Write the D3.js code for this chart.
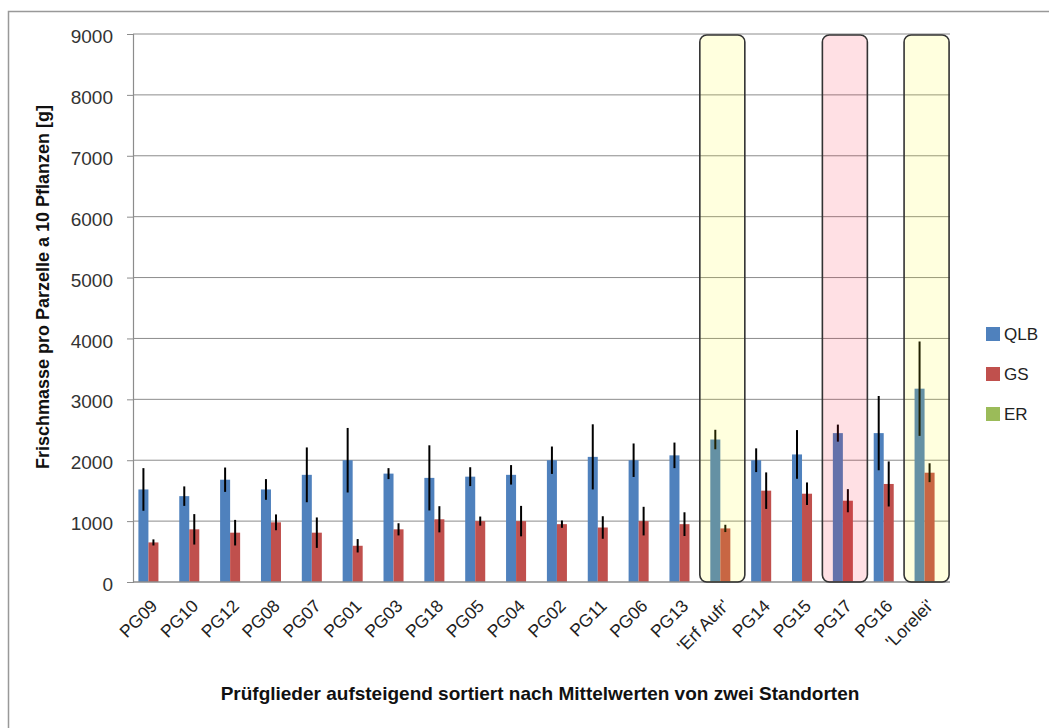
<!DOCTYPE html>
<html>
<head>
<meta charset="utf-8">
<script src="https://cdn.jsdelivr.net/npm/d3@7"></script>
<style>
  body { margin: 0; background: #fff; }
  text { font-family: "Liberation Sans", Arial, sans-serif; }
</style>
</head>
<body>
<div id="chart"></div>
<script>
// Categories sorted by mean of two sites
const categories = ["PG09", "PG10", "PG12", "PG08", "PG07", "PG01", "PG03", "PG18", "PG05", "PG04",
  "PG02", "PG11", "PG06", "PG13", "'Erf Aufr'", "PG14", "PG15", "PG17", "PG16", "'Lorelei'"];
const seriesNames = ["QLB", "GS", "ER"];
const seriesColors = ["#4F81BD", "#C0504D", "#9BBB59"];

const qlbValues = [1520, 1410, 1680, 1520, 1760, 2000, 1780, 1710, 1730, 1760,
  2000, 2055, 2000, 2080, 2340, 2000, 2095, 2445, 2445, 3175];
const qlbErrors = [350, 160, 200, 170, 450, 530, 90, 535, 155, 160,
  225, 535, 275, 210, 160, 195, 400, 140, 610, 775];
const gsValues = [650, 865, 810, 980, 810, 595, 865, 1030, 1000, 1000,
  950, 895, 1000, 950, 880, 1500, 1450, 1335, 1610, 1795];
const gsErrors = [50, 250, 210, 130, 250, 110, 100, 215, 75, 250,
  60, 185, 235, 195, 60, 300, 185, 190, 370, 155];
// ER has no values in the chart, only a legend entry
const erValues = categories.map(() => null);

const yTicks = [0, 1000, 2000, 3000, 4000, 5000, 6000, 7000, 8000, 9000];
const highlighted = [
  {cat: "'Erf Aufr'", fill: "rgba(255,255,0,0.13)"},
  {cat: "PG17", fill: "rgba(255,0,30,0.12)"},
  {cat: "'Lorelei'", fill: "rgba(255,255,0,0.13)"}
];

const width = 1049, height = 728;
const plot = {left: 133, right: 950, top: 34, bottom: 582};

const svg = d3.select('#chart').append('svg')
  .attr('width', width)
  .attr('height', height);

// outer chart border (right/bottom edges fall outside the picture)
svg.append('rect')
  .attr('x', 8.5).attr('y', 11.5)
  .attr('width', 1200).attr('height', 900)
  .attr('fill', 'none')
  .attr('stroke', '#999')
  .attr('stroke-width', 1.5);

const x = d3.scaleBand().domain(categories).range([plot.left, plot.right]);
const xs = d3.scaleBand().domain(seriesNames).range([0, x.bandwidth()]).paddingOuter(0.54);
const y = d3.scaleLinear().domain([0, 9000]).range([plot.bottom, plot.top]);

// gridlines
svg.append('g')
  .selectAll('line')
  .data(yTicks.slice(1))
  .enter().append('line')
  .attr('x1', plot.left).attr('x2', plot.right)
  .attr('y1', (d) => y(d)).attr('y2', (d) => y(d))
  .attr('stroke', '#8c8c8c')
  .attr('stroke-width', 1);

// y axis
const yAxis = svg.append('g')
  .attr('transform', 'translate(' + plot.left + ',0)')
  .call(d3.axisLeft(y).tickValues(yTicks).tickSize(6).tickPadding(14).tickFormat(d3.format('d')));
yAxis.select('.domain').attr('stroke', '#8c8c8c').attr('stroke-width', 1.2);
yAxis.selectAll('.tick line').attr('stroke', '#8c8c8c');
yAxis.selectAll('.tick text')
  .attr('fill', '#333')
  .style('font-size', '19px')
  .attr('dy', '0.45em');

// bars
const rows = categories.map((c, i) => ({
  cat: c,
  vals: [
    {s: 'QLB', v: qlbValues[i], e: qlbErrors[i]},
    {s: 'GS', v: gsValues[i], e: gsErrors[i]},
    {s: 'ER', v: erValues[i], e: null}
  ]
}));

const groups = svg.append('g').attr('class', 'bars')
  .selectAll('g')
  .data(rows)
  .enter().append('g')
  .attr('transform', (d) => 'translate(' + x(d.cat) + ',0)');

const colorOf = d3.scaleOrdinal().domain(seriesNames).range(seriesColors);

groups.selectAll('rect')
  .data((d) => d.vals.filter((v) => v.v != null))
  .enter().append('rect')
  .attr('x', (d) => xs(d.s))
  .attr('width', xs.bandwidth())
  .attr('y', (d) => y(d.v))
  .attr('height', (d) => y(0) - y(d.v))
  .attr('fill', (d) => colorOf(d.s));

// error bars (no caps)
groups.selectAll('line')
  .data((d) => d.vals.filter((v) => v.e != null))
  .enter().append('line')
  .attr('x1', (d) => xs(d.s) + xs.bandwidth() / 2)
  .attr('x2', (d) => xs(d.s) + xs.bandwidth() / 2)
  .attr('y1', (d) => y(d.v + d.e))
  .attr('y2', (d) => y(d.v - d.e))
  .attr('stroke', '#000')
  .attr('stroke-width', 2);

// x axis base line
svg.append('line')
  .attr('x1', plot.left).attr('x2', plot.right)
  .attr('y1', plot.bottom).attr('y2', plot.bottom)
  .attr('stroke', '#8c8c8c')
  .attr('stroke-width', 1.5);

// highlight boxes over selected categories
svg.append('g')
  .selectAll('rect')
  .data(highlighted)
  .enter().append('rect')
  .attr('x', (d) => x(d.cat) + x.bandwidth() / 2 - 3 - 22.5)
  .attr('width', 45)
  .attr('y', plot.top + 1)
  .attr('height', plot.bottom - plot.top - 1)
  .attr('rx', 7).attr('ry', 7)
  .attr('fill', (d) => d.fill)
  .attr('stroke', '#333')
  .attr('stroke-width', 1.6);

// category labels, rotated
svg.append('g')
  .selectAll('text')
  .data(categories)
  .enter().append('text')
  .attr('text-anchor', 'end')
  .attr('transform', (d) => 'translate(' + (x(d) + x.bandwidth() / 2 + 5) + ',' + (plot.bottom + 25) + ') rotate(-45)')
  .attr('fill', '#222')
  .style('font-size', '17.5px')
  .text((d) => d);

// axis titles
svg.append('text')
  .attr('transform', 'translate(49,' + 287 + ') rotate(-90)')
  .attr('text-anchor', 'middle')
  .style('font-size', '18px')
  .style('font-weight', 'bold')
  .attr('fill', '#111')
  .text('Frischmasse  pro Parzelle a 10 Pflanzen [g]');

svg.append('text')
  .attr('x', 540).attr('y', 700)
  .attr('text-anchor', 'middle')
  .style('font-size', '19px')
  .style('font-weight', 'bold')
  .attr('fill', '#111')
  .text('Prüfglieder aufsteigend  sortiert nach Mittelwerten von zwei Standorten');

// legend
const legend = svg.append('g')
  .selectAll('g')
  .data(seriesNames)
  .enter().append('g')
  .attr('transform', (d, i) => 'translate(986,' + (327 + i * 40) + ')');

legend.append('rect')
  .attr('width', 14).attr('height', 14)
  .attr('fill', (d) => colorOf(d));

legend.append('text')
  .attr('x', 18).attr('y', 13)
  .attr('fill', '#222')
  .style('font-size', '17px')
  .text((d) => d);
</script>
</body>
</html>
